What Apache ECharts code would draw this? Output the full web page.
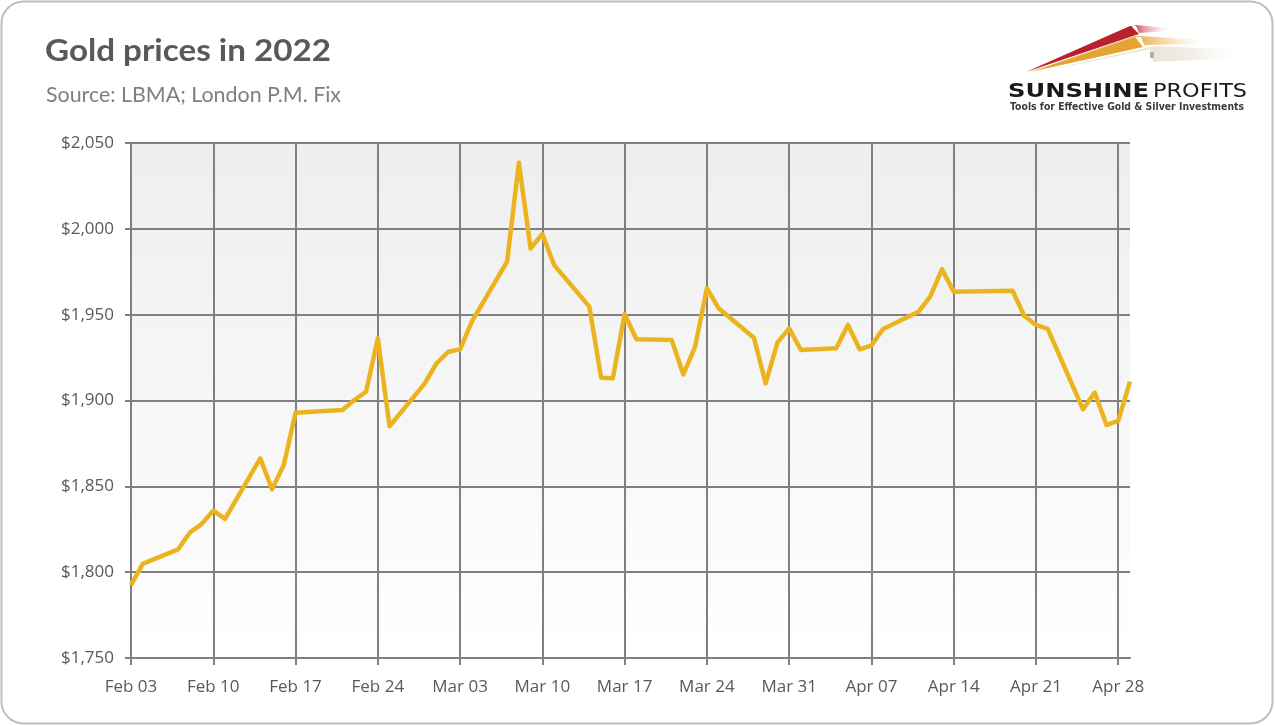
<!DOCTYPE html>
<html>
<head>
<meta charset="utf-8">
<script src="https://cdn.jsdelivr.net/npm/echarts@6/dist/echarts.min.js"></script>
<style>
html,body{margin:0;padding:0;background:#fff;}
#c{width:1275px;height:726px;}
</style>
</head>
<body>
<div id="c"></div>
<script>
// ---- data ----
const dates = [
  "2022-02-03","2022-02-04","2022-02-07","2022-02-08","2022-02-09","2022-02-10","2022-02-11",
  "2022-02-14","2022-02-15","2022-02-16","2022-02-17","2022-02-21","2022-02-22","2022-02-23",
  "2022-02-24","2022-02-25","2022-02-28","2022-03-01","2022-03-02","2022-03-03","2022-03-04",
  "2022-03-07","2022-03-08","2022-03-09","2022-03-10","2022-03-11","2022-03-14","2022-03-15",
  "2022-03-16","2022-03-17","2022-03-18","2022-03-21","2022-03-22","2022-03-23","2022-03-24",
  "2022-03-25","2022-03-28","2022-03-29","2022-03-30","2022-03-31","2022-04-01","2022-04-04",
  "2022-04-05","2022-04-06","2022-04-07","2022-04-08","2022-04-11","2022-04-12","2022-04-13",
  "2022-04-14","2022-04-19","2022-04-20","2022-04-21","2022-04-22","2022-04-25","2022-04-26",
  "2022-04-27","2022-04-28","2022-04-29"
];
const prices = [
  1792.5,1804.8,1813.3,1823.0,1828.0,1835.8,1831.0,
  1866.3,1848.3,1862.4,1892.9,1894.5,1900.3,1905.1,
  1936.2,1885.0,1910.0,1921.7,1928.4,1929.8,1945.9,
  1980.9,2038.5,1988.6,1997.0,1978.9,1954.7,1913.3,
  1913.0,1950.4,1935.7,1935.2,1915.2,1931.4,1965.3,
  1953.7,1936.6,1910.0,1933.7,1942.0,1929.4,1930.4,
  1944.0,1929.8,1932.1,1941.7,1951.7,1960.5,1976.4,
  1963.4,1964.0,1949.4,1944.0,1941.7,1894.9,1904.6,
  1885.7,1888.2,1911.0
];
const xTickDates = ["2022-02-03","2022-02-10","2022-02-17","2022-02-24","2022-03-03","2022-03-10",
  "2022-03-17","2022-03-24","2022-03-31","2022-04-07","2022-04-14","2022-04-21","2022-04-28"];
const xStart = "2022-02-03";
const xEnd = "2022-04-29";
const yMin = 1750, yMax = 2050, yStep = 50;
const titleText = "Gold prices in 2022";
const subtitleText = "Source: LBMA; London P.M. Fix";
const logoWord1 = "SUNSHINE";
const logoWord2 = "PROFITS";
const logoTagline = "Tools for Effective Gold & Silver Investments";

// ---- helpers ----
const MONTHS = ["Jan","Feb","Mar","Apr","May","Jun","Jul","Aug","Sep","Oct","Nov","Dec"];
const DAY = 86400000;
function utc(s){const p=s.split("-").map(Number);return Date.UTC(p[0],p[1]-1,p[2]);}
const t0 = utc(xStart);
function off(s){return Math.round((utc(s)-t0)/DAY);}
function lab(v){const d=new Date(t0+v*DAY);return MONTHS[d.getUTCMonth()]+" "+String(d.getUTCDate()).padStart(2,"0");}
const seriesData = dates.map((d,i)=>[off(d),prices[i]]);
const xTicks = xTickDates.map(off);

const mctx = document.createElement('canvas').getContext('2d');
function tw(text,font){mctx.font=font;return mctx.measureText(text).width;}
function fitText(text,x,y,width,size,weight,family,fill){
  const font = weight+' '+size+'px '+family;
  const s = width/tw(text,font);
  return {type:'text',x:x,y:y,scaleX:s,scaleY:1,silent:true,z:10,
    style:{text:text,fontFamily:family,fontWeight:weight,fontSize:size,fill:fill,textVerticalAlign:'middle',textAlign:'left'}};
}

const chart = echarts.init(document.getElementById('c'));
const gridColor = '#808080';
chart.setOption({
  animation:false,
  backgroundColor:'#ffffff',
  grid:{left:131,right:145,top:143,bottom:68,show:true,borderWidth:0,
    backgroundColor:new echarts.graphic.LinearGradient(0,0,0,1,[{offset:0,color:'#eeeeee'},{offset:1,color:'#ffffff'}])},
  xAxis:{
    type:'value',min:0,max:off(xEnd),
    axisLine:{show:true,onZero:false,lineStyle:{color:gridColor,width:2}},
    axisTick:{show:true,length:7,customValues:xTicks,lineStyle:{color:gridColor,width:2}},
    axisLabel:{customValues:xTicks,formatter:lab,margin:21,fontFamily:'Open Sans',fontSize:17,color:'#595959'},
    splitLine:{show:true,lineStyle:{color:gridColor,width:2}}
  },
  yAxis:{
    type:'value',min:yMin,max:yMax,interval:yStep,
    axisLine:{show:true,lineStyle:{color:gridColor,width:2}},
    axisTick:{show:true,length:6,lineStyle:{color:gridColor,width:2}},
    axisLabel:{margin:17,fontFamily:'Open Sans',fontSize:17,color:'#595959',
      formatter:v=>'$'+v.toLocaleString('en-US')},
    splitLine:{show:true,lineStyle:{color:gridColor,width:2}}
  },
  series:[{
    type:'line',data:seriesData,symbol:'none',z:5,
    lineStyle:{color:'#ebb41f',width:4.5,join:'round'}
  }],
  graphic:[
    {type:'rect',shape:{x:1.5,y:1.5,width:1271,height:722,r:22},
      style:{fill:'none',stroke:'#bfbfbf',lineWidth:2},z:-10,silent:true},
    fitText(titleText,45,51,286,31,'bold','Lato','#595959'),
    fitText(subtitleText,46,95,295,21,'normal','Lato','#7f7f7f'),
    // logo streaks
    {type:'polygon',silent:true,shape:{points:[[1040,72],[1150,49],[1153,62],[1240,58],[1240,50],[1155,46]]},
      style:{fill:new echarts.graphic.LinearGradient(0,0,1,0,[{offset:0,color:'#e2ddc8'},{offset:0.5,color:'#e8e4d4'},{offset:0.75,color:'#f0ede4'},{offset:1,color:'rgba(248,247,243,0)'}])}},
    {type:'rect',silent:true,shape:{x:1150,y:52,width:4,height:6},style:{fill:'#b0b0b0'}},
    {type:'polygon',silent:true,shape:{points:[[1030,72],[1135,37],[1141,37],[1144,45],[1200,44],[1200,40],[1141,36],[1135,36]]},
      style:{fill:new echarts.graphic.LinearGradient(0,0,1,0,[{offset:0,color:'#e09a2a'},{offset:0.55,color:'#e3a53a'},{offset:0.7,color:'#eec27a'},{offset:1,color:'rgba(245,220,170,0)'}])}},
    {type:'polygon',shape:{points:[[1030,72],[1135,37],[1143,47]]},silent:true,
      style:{fill:'#e4a433'}},
    {type:'polygon',silent:true,shape:{points:[[1026,72],[1130,26],[1136,26],[1139,33],[1168,31],[1168,28],[1136,25]]},
      style:{fill:new echarts.graphic.LinearGradient(0,0,1,0,[{offset:0,color:'#b51f2b'},{offset:0.7,color:'#bb2a36'},{offset:0.8,color:'#d77a80'},{offset:1,color:'rgba(240,200,200,0)'}])}},
    {type:'polygon',shape:{points:[[1026,72],[1131,26],[1139,34]]},silent:true,style:{fill:'#b8222e'}},
    fitText(logoWord1,1008,92,141,19,'bold','DejaVu Sans','#1a1a1a'),
    fitText(logoWord2,1153,92,94,19,'normal','DejaVu Sans','#1a1a1a'),
    fitText(logoTagline,1010,107,234,10.5,'bold','DejaVu Sans','#3a3a3a')
  ]
});
</script>
</body>
</html>
